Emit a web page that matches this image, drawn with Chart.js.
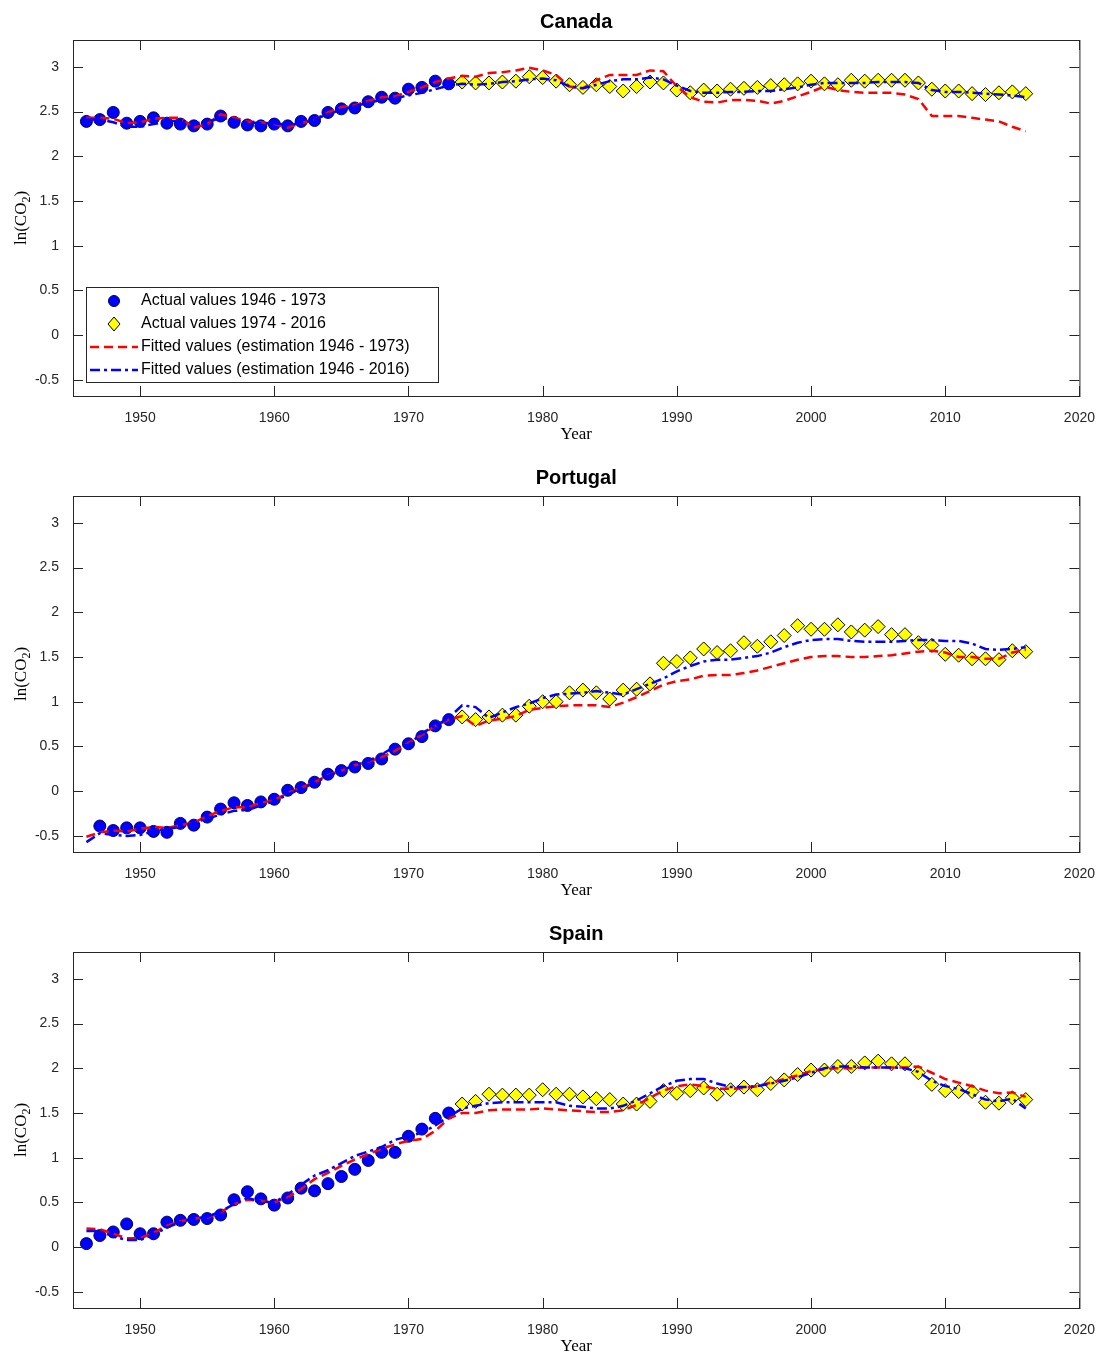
<!DOCTYPE html>
<html>
<head>
<meta charset="utf-8">
<script src="https://cdn.jsdelivr.net/npm/chart.js@4"></script>
<style>
  body { margin: 0; background: #fff; }
  .panel { position: absolute; left: 0; width: 1101px; height: 456px; }
</style>
</head>
<body>
<div class="panel" style="top:0"><canvas id="c0"></canvas></div>
<div class="panel" style="top:456px"><canvas id="c1"></canvas></div>
<div class="panel" style="top:912px"><canvas id="c2"></canvas></div>
<script>
const countries = ['Canada', 'Portugal', 'Spain'];
const xTicks = [1950, 1960, 1970, 1980, 1990, 2000, 2010, 2020];
const yTicks = [-0.5, 0, 0.5, 1, 1.5, 2, 2.5, 3];

// actual values 1946-1973
const canadaEarly = [2.39,2.41,2.49,2.37,2.39,2.43,2.37,2.36,2.34,2.36,2.45,2.38,2.35,2.34,2.36,2.34,2.39,2.40,2.49,2.53,2.54,2.61,2.66,2.65,2.75,2.77,2.84,2.81];
const portugalEarly = [null,-0.39,-0.44,-0.41,-0.41,-0.45,-0.46,-0.36,-0.38,-0.29,-0.20,-0.13,-0.16,-0.12,-0.09,0.01,0.04,0.10,0.19,0.23,0.27,0.31,0.36,0.47,0.53,0.61,0.73,0.80];
const spainEarly = [0.04,0.13,0.17,0.26,0.15,0.15,0.28,0.30,0.31,0.32,0.36,0.53,0.62,0.54,0.47,0.55,0.66,0.63,0.71,0.79,0.87,0.97,1.06,1.06,1.24,1.32,1.44,1.50];

// actual values 1974-2016
const canadaLate = [2.83,2.82,2.82,2.83,2.84,2.89,2.88,2.84,2.80,2.77,2.80,2.78,2.73,2.78,2.83,2.82,2.74,2.71,2.74,2.73,2.75,2.76,2.77,2.79,2.80,2.81,2.84,2.81,2.80,2.85,2.84,2.85,2.85,2.85,2.82,2.75,2.73,2.73,2.70,2.69,2.71,2.72,2.70];
const portugalLate = [0.83,0.80,0.83,0.85,0.85,0.95,1.00,1.00,1.10,1.13,1.10,1.03,1.13,1.14,1.20,1.43,1.45,1.49,1.59,1.55,1.57,1.66,1.62,1.67,1.74,1.85,1.81,1.81,1.86,1.78,1.80,1.84,1.75,1.75,1.66,1.63,1.53,1.52,1.48,1.48,1.47,1.57,1.56];
const spainLate = [1.60,1.63,1.71,1.70,1.70,1.70,1.76,1.71,1.71,1.68,1.66,1.65,1.60,1.60,1.63,1.75,1.72,1.75,1.78,1.71,1.76,1.79,1.76,1.83,1.87,1.93,1.98,1.98,2.02,2.02,2.06,2.08,2.05,2.05,1.95,1.82,1.75,1.74,1.74,1.62,1.61,1.67,1.65];

// fitted values 1946-2016, estimation 1946-1973
const canadaFitShort = [2.43,2.43,2.42,2.37,2.38,2.42,2.43,2.43,2.32,2.36,2.47,2.43,2.39,2.38,2.36,2.32,2.37,2.41,2.49,2.55,2.57,2.62,2.66,2.67,2.72,2.77,2.83,2.87,2.90,2.89,2.93,2.94,2.96,2.99,2.96,2.91,2.78,2.76,2.85,2.91,2.91,2.91,2.96,2.95,2.78,2.66,2.61,2.60,2.63,2.63,2.62,2.59,2.62,2.67,2.72,2.78,2.74,2.72,2.71,2.71,2.71,2.69,2.64,2.45,2.45,2.45,2.43,2.41,2.39,2.33,2.28];
const portugalFitShort = [-0.51,-0.46,-0.44,-0.45,-0.42,-0.40,-0.41,-0.38,-0.35,-0.28,-0.22,-0.18,-0.18,-0.13,-0.10,-0.02,0.04,0.10,0.18,0.23,0.29,0.33,0.38,0.45,0.54,0.63,0.73,0.80,0.84,0.73,0.79,0.81,0.84,0.91,0.93,0.95,0.96,0.96,0.96,0.94,0.99,1.05,1.12,1.19,1.23,1.25,1.29,1.30,1.30,1.32,1.35,1.39,1.43,1.47,1.50,1.51,1.51,1.50,1.50,1.51,1.52,1.54,1.56,1.57,1.55,1.50,1.50,1.48,1.48,1.55,1.58];
const spainFitShort = [0.21,0.20,0.15,0.10,0.10,0.16,0.24,0.29,0.32,0.33,0.39,0.48,0.53,0.52,0.50,0.56,0.65,0.76,0.83,0.91,0.98,1.04,1.10,1.15,1.19,1.21,1.30,1.44,1.50,1.50,1.53,1.54,1.54,1.54,1.55,1.54,1.53,1.52,1.51,1.51,1.53,1.59,1.67,1.75,1.80,1.82,1.80,1.77,1.77,1.78,1.80,1.84,1.88,1.92,1.97,1.99,2.00,2.00,2.01,2.01,2.01,2.01,2.02,1.95,1.88,1.84,1.80,1.75,1.72,1.73,1.68];

// fitted values 1946-2016, estimation 1946-2016
const canadaFitLong = [2.41,2.41,2.38,2.33,2.33,2.36,2.39,2.40,2.37,2.38,2.43,2.41,2.38,2.37,2.37,2.35,2.37,2.41,2.47,2.52,2.56,2.60,2.63,2.65,2.68,2.71,2.75,2.79,2.81,2.80,2.81,2.83,2.84,2.86,2.87,2.85,2.78,2.76,2.80,2.84,2.86,2.86,2.88,2.86,2.79,2.73,2.71,2.71,2.72,2.72,2.73,2.73,2.75,2.77,2.80,2.82,2.82,2.82,2.82,2.83,2.83,2.83,2.82,2.74,2.72,2.72,2.71,2.70,2.69,2.68,2.66];
const portugalFitLong = [-0.57,-0.47,-0.49,-0.50,-0.49,-0.45,-0.42,-0.40,-0.35,-0.31,-0.26,-0.22,-0.21,-0.16,-0.11,-0.04,0.03,0.09,0.17,0.23,0.29,0.34,0.41,0.50,0.52,0.65,0.73,0.82,0.96,0.94,0.82,0.88,0.94,0.98,1.04,1.08,1.09,1.10,1.12,1.10,1.08,1.14,1.20,1.26,1.34,1.40,1.45,1.47,1.47,1.49,1.51,1.55,1.61,1.66,1.69,1.70,1.70,1.68,1.67,1.67,1.67,1.68,1.69,1.69,1.68,1.68,1.65,1.59,1.58,1.59,1.61];
const spainFitLong = [0.18,0.18,0.12,0.08,0.08,0.14,0.22,0.28,0.32,0.34,0.40,0.48,0.55,0.51,0.50,0.59,0.70,0.80,0.86,0.94,1.02,1.07,1.12,1.20,1.24,1.28,1.36,1.46,1.55,1.58,1.61,1.62,1.62,1.62,1.62,1.62,1.58,1.57,1.55,1.55,1.58,1.64,1.72,1.80,1.86,1.88,1.88,1.83,1.79,1.79,1.80,1.83,1.86,1.90,1.95,2.00,2.02,2.02,2.01,2.01,2.01,2.00,1.96,1.86,1.80,1.77,1.71,1.65,1.63,1.66,1.55];

const legendLabels = ['Actual values 1946 - 1973', 'Actual values 1974 - 2016', 'Fitted values (estimation 1946 - 1973)', 'Fitted values (estimation 1946 - 2016)'];

const early = [canadaEarly, portugalEarly, spainEarly];
const late = [canadaLate, portugalLate, spainLate];
const fitShort = [canadaFitShort, portugalFitShort, spainFitShort];
const fitLong = [canadaFitLong, portugalFitLong, spainFitLong];

const toXY = (arr, start) => arr.map((v, i) => ({ x: start + i, y: v }));

const RED_DASH = [9, 5];
const BLUE_DASH = [10, 4, 3, 4];

// box, inward ticks, titles, and the legend
const framePlugin = {
  id: 'frame',
  afterDraw(chart, args, opts) {
    const { ctx, chartArea: a, scales } = chart;
    ctx.save();
    ctx.strokeStyle = '#262626';
    ctx.lineWidth = 1;
    ctx.strokeRect(a.left + 0.5, a.top + 0.5, a.right - a.left, a.bottom - a.top);
    ctx.beginPath();
    xTicks.forEach(t => {
      const x = Math.round(scales.x.getPixelForValue(t)) + 0.5;
      ctx.moveTo(x, a.bottom); ctx.lineTo(x, a.bottom - 10);
      ctx.moveTo(x, a.top); ctx.lineTo(x, a.top + 10);
    });
    yTicks.forEach(t => {
      const y = Math.round(scales.y.getPixelForValue(t)) + 0.5;
      ctx.moveTo(a.left, y); ctx.lineTo(a.left + 10, y);
      ctx.moveTo(a.right, y); ctx.lineTo(a.right - 10, y);
    });
    ctx.stroke();

    ctx.fillStyle = '#000';
    ctx.textAlign = 'center';
    ctx.textBaseline = 'middle';
    ctx.font = 'bold 20px "Liberation Sans", Arial, sans-serif';
    ctx.fillText(opts.title, (a.left + a.right) / 2, 22);
    ctx.font = '17px "Liberation Serif", serif';
    ctx.fillText('Year', (a.left + a.right) / 2, 435);

    ctx.translate(22, (a.top + a.bottom) / 2);
    ctx.rotate(-Math.PI / 2);
    ctx.textAlign = 'left';
    const w1 = ctx.measureText('ln(CO').width;
    ctx.font = '12px "Liberation Serif", serif';
    const w2 = ctx.measureText('2').width;
    ctx.font = '17px "Liberation Serif", serif';
    const w3 = ctx.measureText(')').width;
    let x0 = -(w1 + w2 + w3) / 2;
    ctx.fillText('ln(CO', x0, 0);
    ctx.font = '12px "Liberation Serif", serif';
    ctx.fillText('2', x0 + w1, 5);
    ctx.font = '17px "Liberation Serif", serif';
    ctx.fillText(')', x0 + w1 + w2, 0);
    ctx.restore();

    if (opts.legend) {
      ctx.save();
      ctx.fillStyle = '#fff';
      ctx.fillRect(86, 287, 352, 95);
      ctx.strokeStyle = '#262626';
      ctx.strokeRect(86.5, 287.5, 352, 95);
      ctx.font = '16px "Liberation Sans", Arial, sans-serif';
      ctx.textBaseline = 'middle';
      legendLabels.forEach((lab, i) => {
        const y = 301 + i * 23;
        if (i === 0) {
          ctx.beginPath(); ctx.arc(114, y, 5.5, 0, Math.PI * 2);
          ctx.fillStyle = '#0000ff'; ctx.fill(); ctx.strokeStyle = '#00005a'; ctx.lineWidth = 1; ctx.stroke();
        } else if (i === 1) {
          ctx.beginPath(); ctx.moveTo(114, y - 7); ctx.lineTo(120, y); ctx.lineTo(114, y + 7); ctx.lineTo(108, y); ctx.closePath();
          ctx.fillStyle = '#ffff00'; ctx.fill(); ctx.strokeStyle = '#000'; ctx.lineWidth = 1; ctx.stroke();
        } else {
          ctx.beginPath(); ctx.setLineDash(i === 2 ? RED_DASH : BLUE_DASH);
          ctx.strokeStyle = i === 2 ? '#ff0000' : '#0000ff'; ctx.lineWidth = 2.5;
          ctx.moveTo(90, y); ctx.lineTo(138, y); ctx.stroke(); ctx.setLineDash([]);
        }
        ctx.fillStyle = '#000';
        ctx.fillText(lab, 141, y);
      });
      ctx.restore();
    }
  }
};

countries.forEach((name, k) => {
  new Chart(document.getElementById('c' + k), {
    type: 'scatter',
    data: {
      datasets: [
        { data: toXY(early[k], 1946), pointStyle: 'circle', pointRadius: 6, backgroundColor: '#0000ff', borderColor: '#00005a', borderWidth: 1, order: 3 },
        { data: toXY(late[k], 1974), pointStyle: 'rectRot', pointRadius: 7, backgroundColor: '#ffff00', borderColor: '#000', borderWidth: 1, order: 2 },
        { data: toXY(fitShort[k], 1946), showLine: true, borderColor: '#ff0000', borderWidth: 2.5, borderDash: RED_DASH, pointRadius: 0, order: 1 },
        { data: toXY(fitLong[k], 1946), showLine: true, borderColor: '#0000ff', borderWidth: 2.5, borderDash: BLUE_DASH, pointRadius: 0, order: 0 }
      ]
    },
    options: {
      responsive: true,
      maintainAspectRatio: false,
      animation: false,
      layout: { padding: { top: 40, right: 21, left: 0, bottom: 0 } },
      plugins: {
        legend: { display: false },
        tooltip: { enabled: false },
        frame: { title: name, legend: k === 0 }
      },
      scales: {
        x: {
          type: 'linear', min: 1945, max: 2020,
          afterBuildTicks: s => { s.ticks = xTicks.map(v => ({ value: v })); },
          afterFit: s => { s.height = 60; },
          grid: { display: false },
          border: { display: false },
          ticks: { color: '#262626', font: { size: 14, family: '"Liberation Sans", Arial' }, padding: 6, maxRotation: 0, callback: v => String(v) }
        },
        y: {
          min: -0.68, max: 3.3,
          afterBuildTicks: s => { s.ticks = yTicks.map(v => ({ value: v })); },
          afterFit: s => { s.width = 73; },
          grid: { display: false },
          border: { display: false },
          ticks: { color: '#262626', font: { size: 14, family: '"Liberation Sans", Arial' }, padding: 6, callback: v => String(v) }
        }
      }
    },
    plugins: [framePlugin]
  });
});
</script>
</body>
</html>
